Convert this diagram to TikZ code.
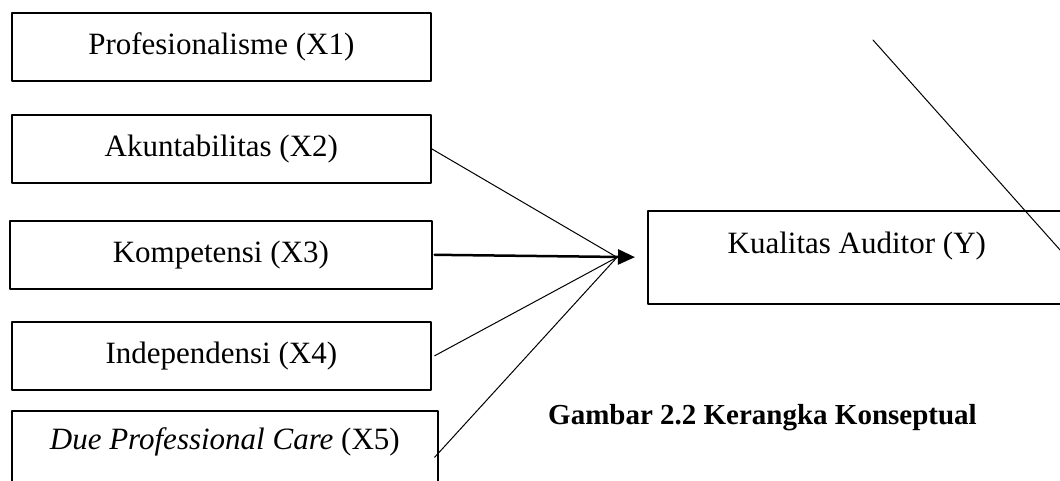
\documentclass[tikz,border=0pt]{standalone}
\usepackage{fontspec}
\setmainfont{Liberation Serif}
\usetikzlibrary{arrows.meta}
\usetikzlibrary{positioning}

\tikzset{
  box/.style={draw,line width=1.6pt,inner sep=0pt,anchor=north west,minimum width=419pt,minimum height=68pt,font=\fontsize{31}{37}\selectfont},
  link/.style={line width=1pt},
}

\begin{document}
\begin{tikzpicture}[line cap=round,line join=round,>={Triangle[length=17pt,width=15pt]},x=1pt,y=-1pt]
  \useasboundingbox (0,0) rectangle (1060,481);
  \clip (0,0) rectangle (1060,481);
  % variabel bebas
  \node[box] (x1) at (11,12) {Profesionalisme (X1)};
  \node[box] (x2) at (11,114) {Akuntabilitas (X2)};
  \node[box,minimum width=422pt] (x3) at (9,220) {Kompetensi (X3)};
  \node[box] (x4) at (11,321) {Independensi (X4)};
  \node[box,minimum width=426pt,minimum height=93pt,text height=22pt,text depth=37pt] (x5) at (11,410) {\textit{Due Professional Care} (X5)};
  % variabel terikat
  \node[box,minimum width=418pt,minimum height=93pt,text height=22pt,text depth=29pt] (ky) at (647,210) {Kualitas Auditor (Y)};
  \coordinate (meet) at ([xshift=-30pt]ky.west);
  \draw[link] (x2.east) -- (meet);
  \draw[link] ([xshift=3pt]x4.east) -- (meet);
  \draw[link] ([xshift=-4pt]x5.east) -- (meet);
  \draw[link,line width=2.5pt,->,shorten >=12pt] ([xshift=2pt]x3.east) -- (ky.west);
  \draw[link] (873,40) -- (1069,260);
  \node[font=\fontsize{29}{35}\selectfont\bfseries,anchor=west,inner sep=0pt] (caption) at (548,418) {Gambar 2.2 Kerangka Konseptual};
\end{tikzpicture}
\end{document}
